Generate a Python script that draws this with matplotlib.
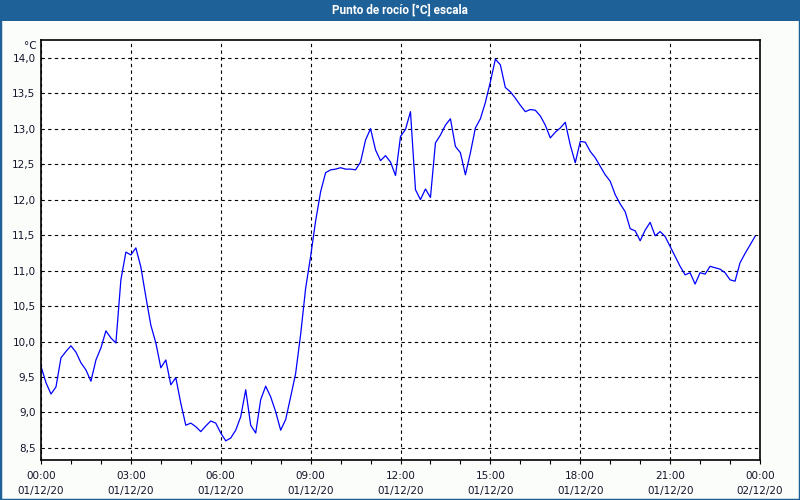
import numpy as np
import matplotlib
matplotlib.use("Agg")
import matplotlib.pyplot as plt
from matplotlib.patches import Rectangle
from matplotlib.ticker import MultipleLocator, FixedLocator

# dew point, one reading every 10 minutes, 01/12/20 00:00 -> 23:50
dew_point = [
    9.65, 9.42, 9.26, 9.36, 9.77, 9.86, 9.94, 9.85, 9.70, 9.60,
    9.44, 9.74, 9.91, 10.15, 10.05, 9.98, 10.87, 11.26, 11.22, 11.32,
    11.05, 10.63, 10.23, 9.98, 9.63, 9.74, 9.39, 9.49, 9.13, 8.82,
    8.85, 8.80, 8.73, 8.81, 8.88, 8.85, 8.71, 8.60, 8.64, 8.75,
    8.94, 9.32, 8.82, 8.71, 9.18, 9.37, 9.22, 9.01, 8.75, 8.90,
    9.22, 9.55, 10.10, 10.75, 11.20, 11.70, 12.11, 12.38, 12.42, 12.43,
    12.45, 12.43, 12.43, 12.42, 12.53, 12.84, 13.00, 12.70, 12.55, 12.62,
    12.53, 12.34, 12.89, 12.99, 13.24, 12.14, 12.00, 12.15, 12.03, 12.80,
    12.91, 13.05, 13.14, 12.75, 12.66, 12.35, 12.66, 13.01, 13.14, 13.37,
    13.66, 13.98, 13.90, 13.58, 13.52, 13.43, 13.33, 13.24, 13.27, 13.26,
    13.18, 13.05, 12.87, 12.95, 13.01, 13.09, 12.77, 12.52, 12.82, 12.81,
    12.68, 12.59, 12.47, 12.35, 12.26, 12.07, 11.94, 11.83, 11.59, 11.56,
    11.42, 11.57, 11.68, 11.49, 11.55, 11.48, 11.34, 11.20, 11.06, 10.94,
    10.97, 10.81, 10.97, 10.95, 11.06, 11.04, 11.02, 10.97, 10.87, 10.85,
    11.11, 11.24, 11.36, 11.48,
]
hours = np.arange(len(dew_point)) / 6.0

x_ticks = [0, 3, 6, 9, 12, 15, 18, 21, 24]
x_labels = ["00:00\n01/12/20", "03:00\n01/12/20", "06:00\n01/12/20",
            "09:00\n01/12/20", "12:00\n01/12/20", "15:00\n01/12/20",
            "18:00\n01/12/20", "21:00\n01/12/20", "00:00\n02/12/20"]
y_ticks = [8.5, 9.0, 9.5, 10.0, 10.5, 11.0, 11.5, 12.0, 12.5, 13.0, 13.5, 14.0]

title = "Punto de rocío [°C] escala"
text_col = "#14142a"

fig = plt.figure(figsize=(8, 5), dpi=100, facecolor="#fafdfa")

# title bar + outer frame
fig.patches.append(Rectangle((0, 479 / 500), 1, 21 / 500, transform=fig.transFigure,
                             facecolor="#1e6198", edgecolor="none", zorder=0))
fig.patches.append(Rectangle((0, 0), 1, 1, transform=fig.transFigure, fill=False,
                             edgecolor="#1e6198", linewidth=2.5, zorder=5))
fig.text(0.5, 489.5 / 500, title, color="white", fontsize=8.5, fontweight="bold",
         family="Roboto", ha="center", va="center")

ax = fig.add_axes([41 / 800, 40 / 500, 719 / 800, 420 / 500])
ax.set_facecolor("white")
ax.plot(hours, dew_point, color="#0000ff", linewidth=0.9)

ax.set_xlim(0, 24)
ax.set_ylim(8.33, 14.25)

ax.xaxis.set_major_locator(FixedLocator(x_ticks))
ax.set_xticklabels(x_labels)
ax.xaxis.set_minor_locator(MultipleLocator(1))
ax.set_yticks(y_ticks)
ax.set_yticklabels([f"{v:.1f}".replace(".", ",") for v in y_ticks])

ax.tick_params(axis="x", which="both", direction="out", length=3, width=0.8,
               color="black", labelsize=7.5, labelcolor=text_col, pad=5)
ax.tick_params(axis="y", length=0, labelsize=7.5, labelcolor=text_col, pad=4)
for lbl in ax.get_xticklabels():
    lbl.set_linespacing(1.6)

ax.grid(True, which="major", color="black", linestyle=(0, (3, 3)), linewidth=0.8)

for s in ax.spines.values():
    s.set_linewidth(1.2)
    s.set_color("black")

fig.text(37 / 800, 1 - 46 / 500, "°C", fontsize=7.5, color=text_col, ha="right", va="center")

fig.savefig("out.png", dpi=100, facecolor=fig.get_facecolor())
